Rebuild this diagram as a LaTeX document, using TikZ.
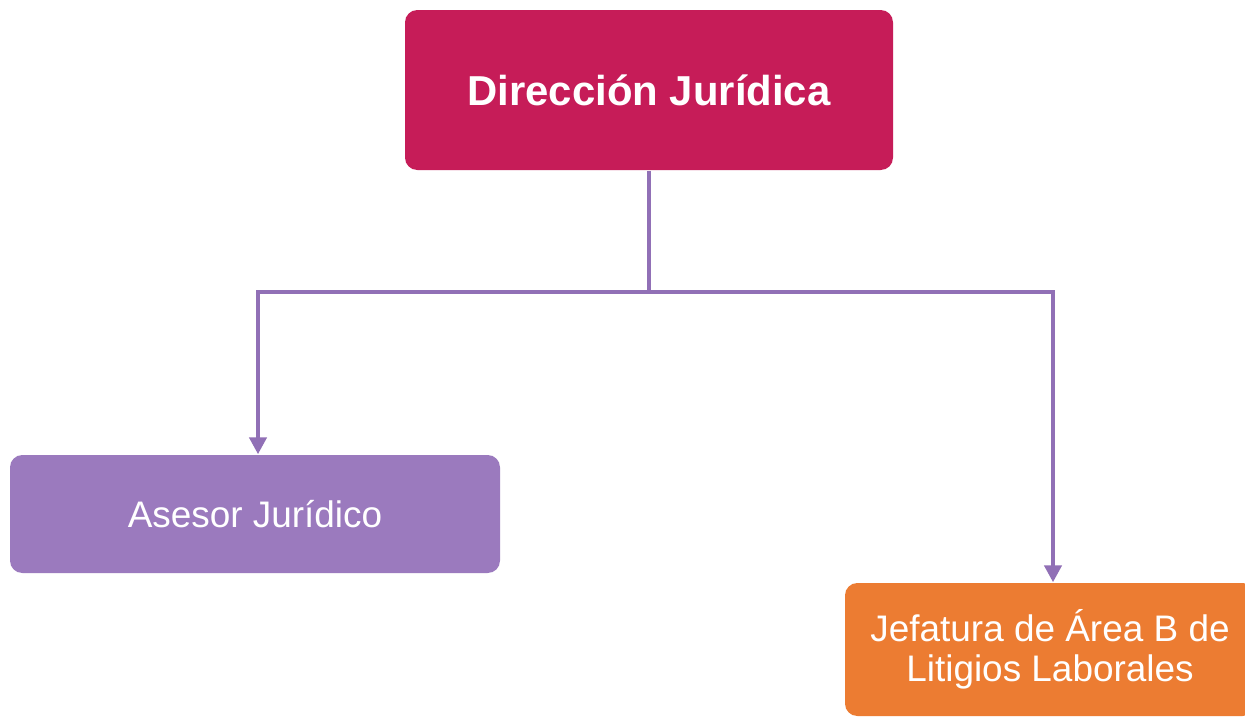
\documentclass[tikz,border=0pt]{standalone}
\usepackage{fontspec}
\setmainfont{Liberation Sans}
\usetikzlibrary{arrows.meta}
\definecolor{crimson}{RGB}{198,28,88}
\definecolor{lilac}{RGB}{155,122,190}
\definecolor{orng}{RGB}{236,124,50}
\definecolor{conn}{RGB}{145,112,182}
\tikzset{
  box/.style={rounded corners=3.5pt, text=white, align=center, inner sep=0pt},
  topbox/.style={box, fill=crimson, minimum width=488*0.01cm, minimum height=160*0.01cm, font=\fontsize{11.9}{14}\selectfont\bfseries},
  asebox/.style={box, fill=lilac, minimum width=490*0.01cm, minimum height=118*0.01cm, font=\fontsize{10.5}{12}\selectfont},
  jefbox/.style={box, fill=orng, minimum width=410*0.01cm, minimum height=133*0.01cm, font=\fontsize{10.5}{11.2}\selectfont},
  link/.style={draw=conn, line width=1.3pt},
  arr/.style={link, -{Triangle[width=4.8pt,length=4.8pt]}}
}
\begin{document}
\begin{tikzpicture}[x=0.01cm,y=-0.01cm]
\useasboundingbox (0,0) rectangle (1245,718);
\clip (0,0) rectangle (1245,718);
\fill[white] (0,0) rectangle (1245,718);
\node[topbox] (dir) at (649,90) {Dirección Jurídica};
\node[asebox] (ase) at (255,514) {Asesor Jurídico};
\node[jefbox] (jef) at (1050,649.5) {Jefatura de Área B de\\Litigios Laborales};
\coordinate (j) at (649,292);
\coordinate (aseIn) at ([xshift=3*0.01cm]ase.north);
\coordinate (jefIn) at ([xshift=3*0.01cm]jef.north);
\draw[link] (dir.south) -- (j);
\draw[arr] (j) -| (aseIn);
\draw[arr] (j) -| (jefIn);
\end{tikzpicture}
\end{document}
